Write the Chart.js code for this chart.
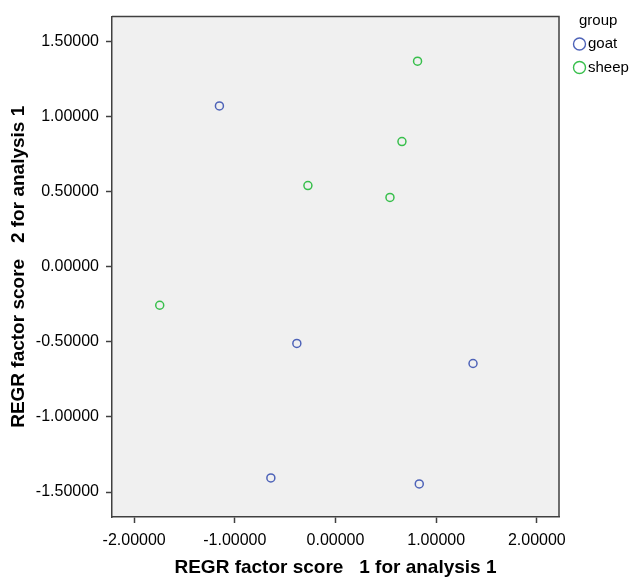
<!DOCTYPE html>
<html>
<head>
<meta charset="utf-8">
<script src="https://cdn.jsdelivr.net/npm/chart.js@4/dist/chart.umd.min.js"></script>
<style>
  html, body { margin: 0; padding: 0; background: #fff; }
  #wrap { width: 633px; height: 580px; }
</style>
</head>
<body>
<div id="wrap"><canvas id="chart" width="633" height="580"></canvas></div>
<script>
// data
const goatX = [-1.153, -0.384, -0.642, 1.366, 0.832];
const goatY = [1.071, -0.510, -1.406, -0.644, -1.446];
const sheepX = [-0.274, 0.815, 0.660, 0.541, -1.746];
const sheepY = [0.541, 1.369, 0.834, 0.462, -0.256];
const xTicks = [-2, -1, 0, 1, 2];
const yTicks = [-1.5, -1, -0.5, 0, 0.5, 1, 1.5];
const groups = ['goat', 'sheep'];
const groupColors = ['#4e63b8', '#38bf4c'];

const FONT = '"Liberation Sans", Arial, sans-serif';
const frameColor = '#404040';

const toPoints = (xs, ys) => xs.map((x, i) => ({ x: x, y: ys[i] }));

// grey plot background + top/right frame
const plotFrame = {
  id: 'plotFrame',
  beforeDatasetsDraw(chart) {
    const { ctx, chartArea: a } = chart;
    ctx.save();
    ctx.strokeStyle = frameColor;
    ctx.lineWidth = 1.5;
    ctx.beginPath();
    ctx.moveTo(a.left, a.top);
    ctx.lineTo(a.right, a.top);
    ctx.lineTo(a.right, a.bottom);
    ctx.stroke();
    ctx.restore();
  },
  beforeDraw(chart) {
    const { ctx, chartArea: a } = chart;
    ctx.save();
    ctx.fillStyle = '#f0f0f0';
    ctx.fillRect(a.left, a.top, a.right - a.left, a.bottom - a.top);
    ctx.restore();
  }
};

// SPSS style legend to the right of the plot
const sideLegend = {
  id: 'sideLegend',
  afterDraw(chart) {
    const { ctx, chartArea: a } = chart;
    const x0 = a.right + 14;
    ctx.save();
    ctx.font = '15px ' + FONT;
    ctx.fillStyle = '#000';
    ctx.textBaseline = 'middle';
    ctx.textAlign = 'left';
    ctx.fillText('group', x0 + 6, 21);
    groups.forEach((g, i) => {
      const y = 44 + i * 23.5;
      ctx.beginPath();
      ctx.arc(x0 + 6.5, y, 6, 0, Math.PI * 2);
      ctx.strokeStyle = groupColors[i];
      ctx.lineWidth = 1.4;
      ctx.stroke();
      ctx.fillStyle = '#000';
      ctx.fillText(g, x0 + 15, y);
    });
    ctx.restore();
  }
};

const ctx = document.getElementById('chart').getContext('2d');
new Chart(ctx, {
  type: 'scatter',
  data: {
    datasets: [
      {
        label: groups[0],
        data: toPoints(goatX, goatY),
        borderColor: groupColors[0],
        backgroundColor: 'rgba(0,0,0,0)',
        pointRadius: 4,
        pointBorderWidth: 1.5
      },
      {
        label: groups[1],
        data: toPoints(sheepX, sheepY),
        borderColor: groupColors[1],
        backgroundColor: 'rgba(0,0,0,0)',
        pointRadius: 4,
        pointBorderWidth: 1.5
      }
    ]
  },
  options: {
    responsive: false,
    animation: false,
    layout: { padding: { left: 0, top: 13, right: 74, bottom: 0 } },
    plugins: {
      legend: { display: false },
      tooltip: { enabled: false }
    },
    scales: {
      x: {
        type: 'linear',
        min: -2.22,
        max: 2.22,
        afterFit(scale) { scale.height = 63; },
        afterBuildTicks(scale) { scale.ticks = xTicks.map(v => ({ value: v })); },
        grid: { drawOnChartArea: false, tickLength: 6, color: frameColor, tickWidth: 1.5 },
        border: { display: true, color: frameColor, width: 1.5 },
        ticks: {
          padding: 8,
          color: '#000',
          font: { family: FONT, size: 16 },
          callback: v => v.toFixed(5)
        },
        title: {
          display: true,
          text: 'REGR factor score   1 for analysis 1',
          color: '#000',
          font: { family: FONT, size: 19, weight: 'bold' },
          padding: { top: 0, bottom: 1 }
        }
      },
      y: {
        type: 'linear',
        min: -1.666,
        max: 1.666,
        afterFit(scale) { scale.width = 112; },
        afterBuildTicks(scale) { scale.ticks = yTicks.map(v => ({ value: v })); },
        grid: { drawOnChartArea: false, tickLength: 6, color: frameColor, tickWidth: 1.5 },
        border: { display: true, color: frameColor, width: 1.5 },
        ticks: {
          padding: 7,
          color: '#000',
          font: { family: FONT, size: 16 },
          callback: v => v.toFixed(5)
        },
        title: {
          display: true,
          text: 'REGR factor score   2 for analysis 1',
          color: '#000',
          font: { family: FONT, size: 19, weight: 'bold' },
          padding: { top: 7, bottom: 0 }
        }
      }
    }
  },
  plugins: [plotFrame, sideLegend]
});
</script>
</body>
</html>
